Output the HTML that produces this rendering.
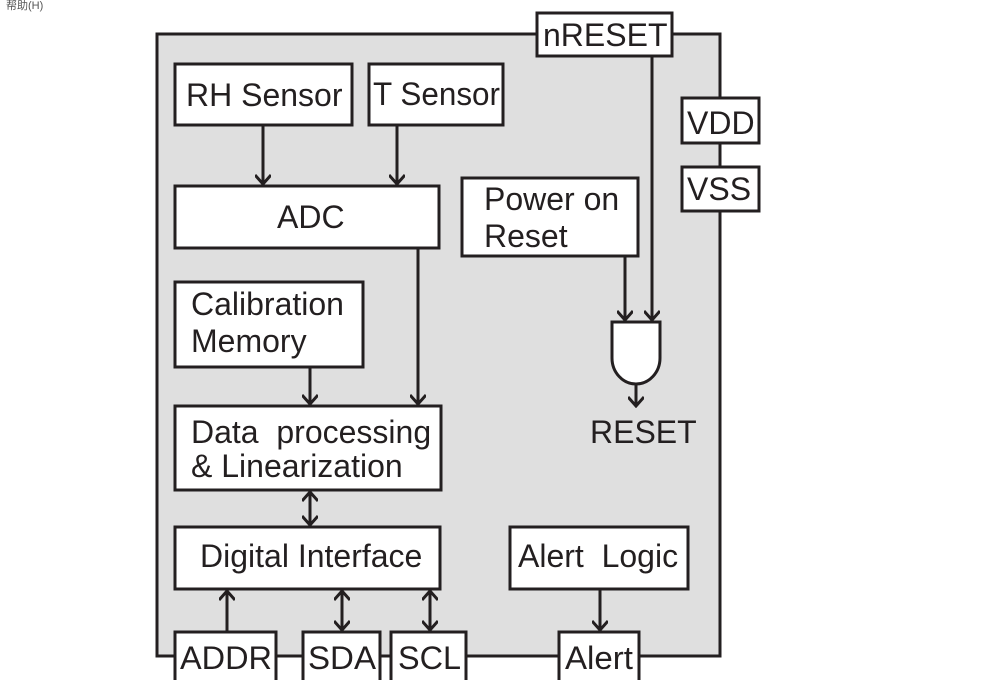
<!DOCTYPE html>
<html><head><meta charset="utf-8"><style>
html,body{margin:0;padding:0;background:#fff;width:1008px;height:680px;overflow:hidden}
svg{display:block}
text{font-family:"Liberation Sans",Arial,sans-serif;font-size:32px;fill:#231f20}
</style></head><body>
<svg width="1008" height="680" viewBox="0 0 1008 680" xmlns="http://www.w3.org/2000/svg">
<defs>
<marker id="a" markerWidth="16" markerHeight="16" refX="14" refY="8" orient="auto-start-reverse" markerUnits="userSpaceOnUse" viewBox="0 0 16 16">
<polyline points="5,0 14,8 5,16" fill="none" stroke="#231f20" stroke-width="3"/>
</marker>
</defs>
<text x="6" y="9" style="font-size:11px;fill:#555;font-family:'Liberation Sans','Noto Sans CJK SC',sans-serif">帮助(H)</text>
<g stroke="#231f20" stroke-width="3">
<rect x="157" y="34" width="563" height="622" fill="#dfdfdf"/>
<g fill="#fff">
<rect x="537" y="13" width="135" height="43"/>
<rect x="175" y="64" width="177" height="61"/>
<rect x="369" y="64" width="134" height="61"/>
<rect x="682" y="98" width="77" height="45"/>
<rect x="682" y="167" width="77" height="44"/>
<rect x="175" y="186" width="264" height="62"/>
<rect x="462" y="178" width="176" height="78"/>
<rect x="175" y="282" width="188" height="85"/>
<rect x="175" y="406" width="266" height="84"/>
<rect x="175" y="527" width="265" height="62"/>
<rect x="510" y="527" width="178" height="62"/>
<rect x="175" y="632" width="101" height="50"/>
<rect x="303" y="632" width="77" height="50"/>
<rect x="391" y="632" width="75" height="50"/>
<rect x="559" y="632" width="80" height="50"/>
<path d="M612,322 H660 V358 A24,26 0 0 1 612,358 Z"/>
</g>
<g fill="none">
<line x1="263" y1="125" x2="263" y2="184" marker-end="url(#a)"/>
<line x1="397" y1="125" x2="397" y2="184" marker-end="url(#a)"/>
<line x1="418" y1="248" x2="418" y2="404" marker-end="url(#a)"/>
<line x1="310" y1="367" x2="310" y2="404" marker-end="url(#a)"/>
<line x1="310" y1="492" x2="310" y2="525" marker-start="url(#a)" marker-end="url(#a)"/>
<line x1="227" y1="632" x2="227" y2="591" marker-end="url(#a)"/>
<line x1="342" y1="591" x2="342" y2="630" marker-start="url(#a)" marker-end="url(#a)"/>
<line x1="430" y1="591" x2="430" y2="630" marker-start="url(#a)" marker-end="url(#a)"/>
<line x1="600" y1="589" x2="600" y2="630" marker-end="url(#a)"/>
<line x1="652" y1="56" x2="652" y2="320" marker-end="url(#a)"/>
<line x1="625" y1="256" x2="625" y2="320" marker-end="url(#a)"/>
<line x1="636" y1="384" x2="636" y2="406" marker-end="url(#a)"/>
</g>
</g>
<text x="543" y="46">nRESET</text>
<text x="186" y="106">RH Sensor</text>
<text x="373" y="105" textLength="127" lengthAdjust="spacingAndGlyphs">T Sensor</text>
<text x="687" y="134">VDD</text>
<text x="687" y="200">VSS</text>
<text x="277" y="228">ADC</text>
<text x="484" y="210">Power on</text>
<text x="484" y="247">Reset</text>
<text x="191" y="315">Calibration</text>
<text x="191" y="352">Memory</text>
<text x="191" y="443" xml:space="preserve">Data  processing</text>
<text x="191" y="477">&amp; Linearization</text>
<text x="200" y="567">Digital Interface</text>
<text x="518" y="567" xml:space="preserve">Alert  Logic</text>
<text x="590" y="443">RESET</text>
<g style="font-size:36px">
<text x="180" y="669" textLength="92" lengthAdjust="spacingAndGlyphs">ADDR</text>
<text x="308" y="669" textLength="68" lengthAdjust="spacingAndGlyphs">SDA</text>
<text x="398" y="669" textLength="63" lengthAdjust="spacingAndGlyphs">SCL</text>
<text x="565" y="669" textLength="68" lengthAdjust="spacingAndGlyphs">Alert</text>
</g>
</svg>
</body></html>
